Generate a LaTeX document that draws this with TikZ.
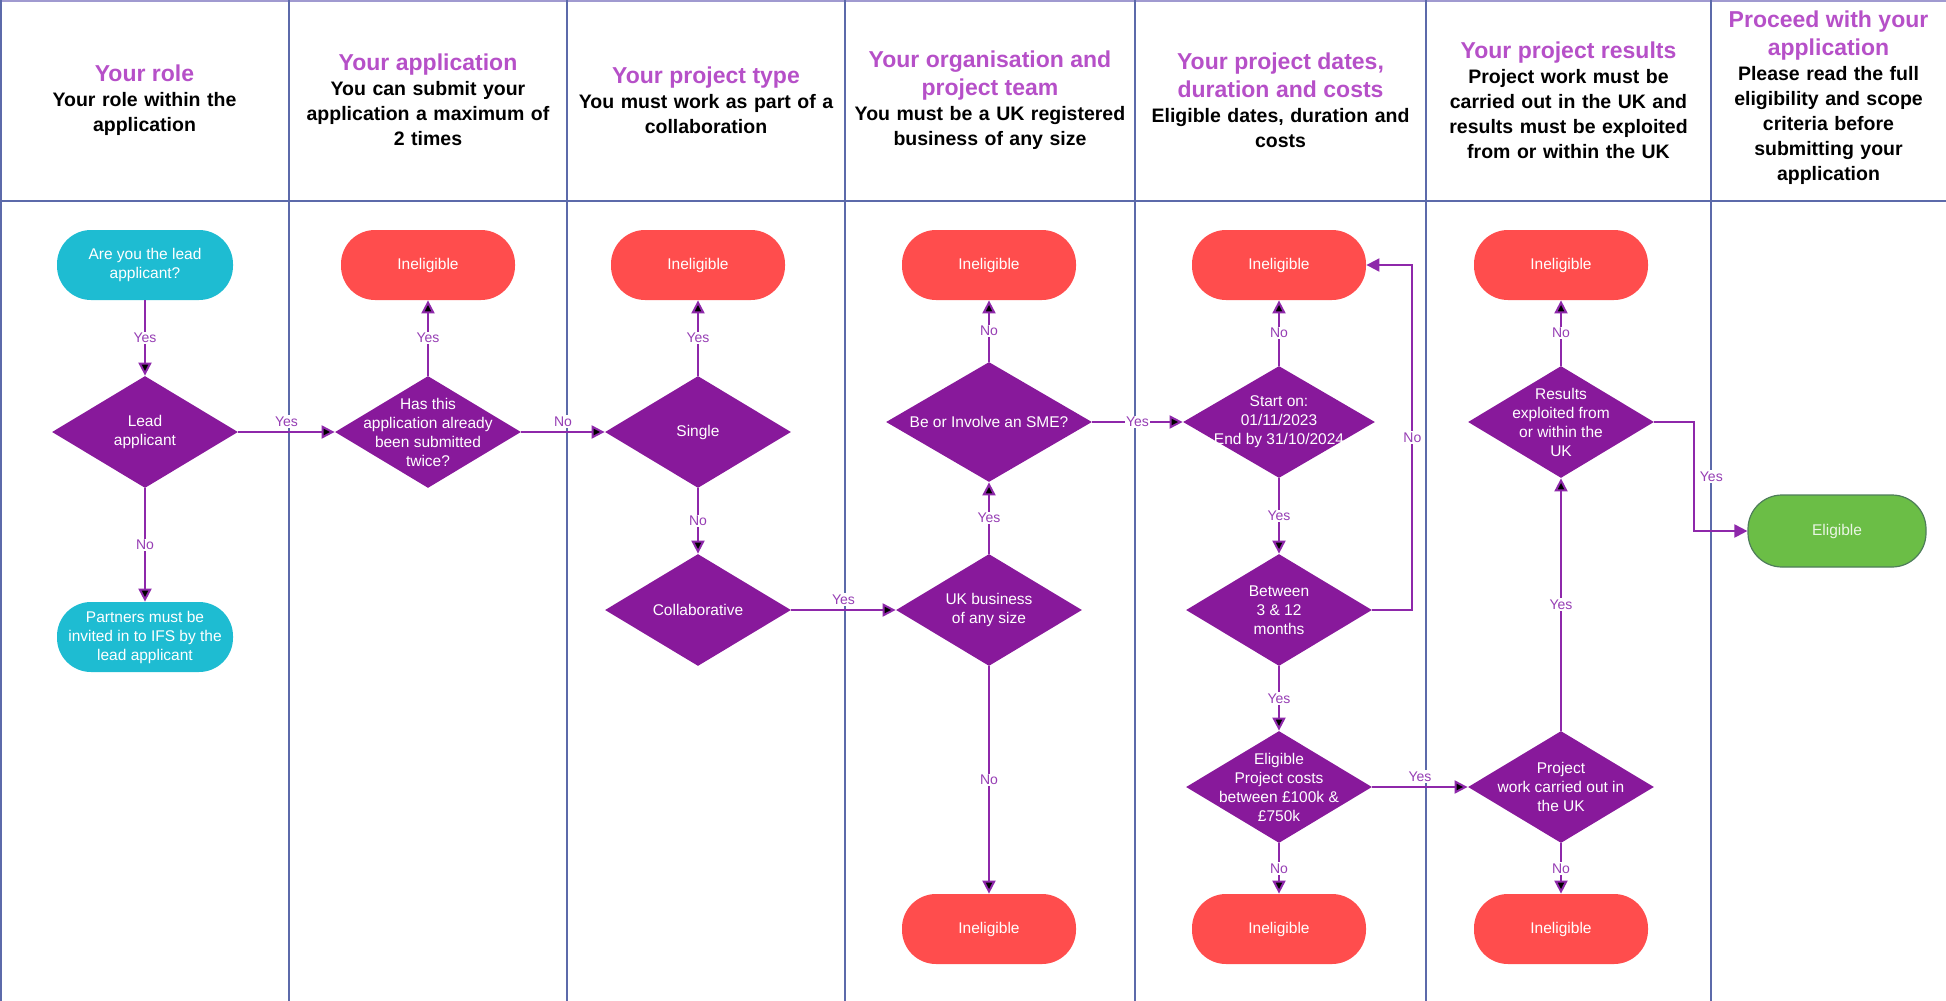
\documentclass[tikz,border=0pt]{standalone}
\usepackage{fontspec}
\setmainfont{Liberation Sans}
\usepackage{xcolor}
\usetikzlibrary{arrows.meta,shapes.geometric,positioning}

\definecolor{diapurple}{RGB}{136,25,155}
\definecolor{linepurple}{RGB}{142,40,170}
\definecolor{labpurple}{RGB}{150,62,180}
\definecolor{titlepurple}{RGB}{182,80,200}
\definecolor{stopred}{RGB}{255,77,77}
\definecolor{startcyan}{RGB}{30,188,210}
\definecolor{okgreen}{RGB}{107,190,70}
\definecolor{okborder}{RGB}{78,125,90}
\definecolor{gridblue}{RGB}{92,106,170}
\definecolor{toplav}{RGB}{160,154,208}

\setlength{\parindent}{0pt}
\newcommand{\nodefont}{\fontsize{15.5}{19}\selectfont}
\newcommand{\headtitle}[1]{{\color{titlepurple}\fontsize{23}{28}\selectfont #1\par}}

\begin{document}
\begin{tikzpicture}[x=1pt,y=-1pt,thick,>={Triangle[length=13pt,width=13pt]},
    start node/.style={rectangle,rounded corners=34pt,fill=startcyan,text=white,align=center,
      minimum width=176pt,minimum height=70pt,inner sep=1pt,font=\nodefont},
    stop node/.style={start node,fill=stopred,minimum width=174pt},
    ok node/.style={start node,fill=okgreen,draw=okborder,line width=1.2pt,
      text=white!85!okgreen,minimum width=178pt,minimum height=72pt},
    test node/.style={diamond,fill=diapurple,minimum width=186pt,minimum height=112pt,inner sep=0pt},
    test text/.style={text=white,align=center,inner sep=0pt,font=\nodefont},
    head node/.style={align=center,text width=#1,inner sep=0pt,
      font=\bfseries\fontsize{19.5}{25}\selectfont},
    head node/.default=276pt,
    yn/.style={text=labpurple,fill=white,inner sep=1.5pt,font=\fontsize{14}{16}\selectfont},
    grid line/.style={draw=gridblue,line width=1.5pt},
    flow/.style={->,draw=linepurple,line width=2pt}]

  \useasboundingbox (0,0) rectangle (1946,1001);

  % lanes
  \draw[draw=toplav,line width=2pt] (0,1) -- (1946,1);
  \draw[grid line] (1,0) -- (1,1001) (0,201) -- (1946,201);
  \draw[grid line] (289,0) -- (289,1001) (567,0) -- (567,1001) (845,0) -- (845,1001)
    (1135,0) -- (1135,1001) (1426,0) -- (1426,1001) (1711,0) -- (1711,1001);

  % headers
  \node[head node] (H1) at (144.5,100) {\headtitle{Your role}Your role within the\\application};
  \node[head node] (H2) at (428,100) {\headtitle{Your application}You can submit your\\application a maximum of\\2 times};
  \node[head node] (H3) at (706,100) {\headtitle{Your project type}You must work as part of a\\collaboration};
  \node[head node=286pt] (H4) at (990,100) {\headtitle{Your organisation and\\project team}You must be a UK registered\\business of any size};
  \node[head node=286pt] (H5) at (1280.5,100) {\headtitle{Your project dates,\\duration and costs}Eligible dates, duration and\\costs};
  \node[head node] (H6) at (1568.5,100) {\headtitle{Your project results}Project work must be\\carried out in the UK and\\results must be exploited\\from or within the UK};
  \node[head node=230pt] (H7) at (1828.5,98) {\headtitle{Proceed with your\\application}Please read the full\\eligibility and scope\\criteria before\\submitting your\\application};

  % your role
  \node[start node] (1) at (145,265) {Are you the lead\\applicant?};
  \node[test node,label={[test text]center:{Lead\\applicant}}] (2) at (145,432) {};
  \node[start node] (3) at (145,637) {Partners must be\\invited in to IFS by the\\lead applicant};

  % your application
  \node[stop node] (4) at (428,265) {Ineligible};
  \node[test node,label={[test text]center:{Has this\\application already\\been submitted\\twice?}}] (5) at (428,432) {};

  % project type
  \node[stop node] (6) at (698,265) {Ineligible};
  \node[test node,label={[test text]center:{Single}}] (7) at (698,432) {};
  \node[test node,label={[test text]center:{Collaborative}}] (8) at (698,610) {};

  % organisation
  \node[stop node] (9) at (989,265) {Ineligible};
  \node[test node,minimum width=206pt,minimum height=120pt,
        label={[test text]center:{Be or Involve an SME?}}] (10) at (989,422) {};
  \node[test node,label={[test text]center:{UK business\\of any size}}] (11) at (989,610) {};
  \node[stop node] (12) at (989,929) {Ineligible};

  % dates, duration and costs
  \node[stop node] (13) at (1279,265) {Ineligible};
  \node[test node,minimum width=192pt,label={[test text]center:{Start on:\\01/11/2023\\End by 31/10/2024}}] (14) at (1279,422) {};
  \node[test node,label={[test text]center:{Between\\3 \& 12\\months}}] (15) at (1279,610) {};
  \node[test node,label={[test text]center:{Eligible\\Project costs\\between £100k \&\\£750k}}] (16) at (1279,787) {};
  \node[stop node] (17) at (1279,929) {Ineligible};

  % results
  \node[stop node] (18) at (1561,265) {Ineligible};
  \node[test node,label={[test text]center:{Results\\exploited from\\or within the\\UK}}] (19) at (1561,422) {};
  \node[test node,label={[test text]center:{Project\\work carried out in\\the UK}}] (20) at (1561,787) {};
  \node[stop node] (21) at (1561,929) {Ineligible};

  % proceed
  \node[ok node] (22) at (1837,531) {Eligible};

  \path[flow]
    (1) edge node[yn] {Yes} (2)
    (2) edge node[yn] {No} (3)
    (2) edge node[yn,above=3pt] {Yes} (5)
    (5) edge node[yn] {Yes} (4)
    (5) edge node[yn,above=3pt] {No} (7)
    (7) edge node[yn] {Yes} (6)
    (7) edge node[yn] {No} (8)
    (8) edge node[yn,above=3pt] {Yes} (11)
    (11) edge node[yn] {Yes} (10)
    (10) edge node[yn] {No} (9)
    (11) edge node[yn] {No} (12)
    (10) edge node[yn] {Yes} (14)
    (14) edge node[yn] {No} (13)
    (14) edge node[yn] {Yes} (15)
    (15) edge node[yn] {Yes} (16)
    (16) edge node[yn] {No} (17)
    (16) edge node[yn,above=3pt] {Yes} (20)
    (20) edge node[yn] {Yes} (19)
    (19) edge node[yn] {No} (18)
    (20) edge node[yn] {No} (21);

  \coordinate (L1) at ([xshift=40pt]15.east);
  \coordinate (L2) at ([xshift=40pt]19.east);
  \draw[flow] (15.east) -- (L1) |- node[yn,pos=0.25] {No} (13.east);
  \draw[flow] (19.east) -- (L2) |- node[yn,right,pos=0.25,xshift=3pt] {Yes} (22.west);

\end{tikzpicture}
\end{document}
